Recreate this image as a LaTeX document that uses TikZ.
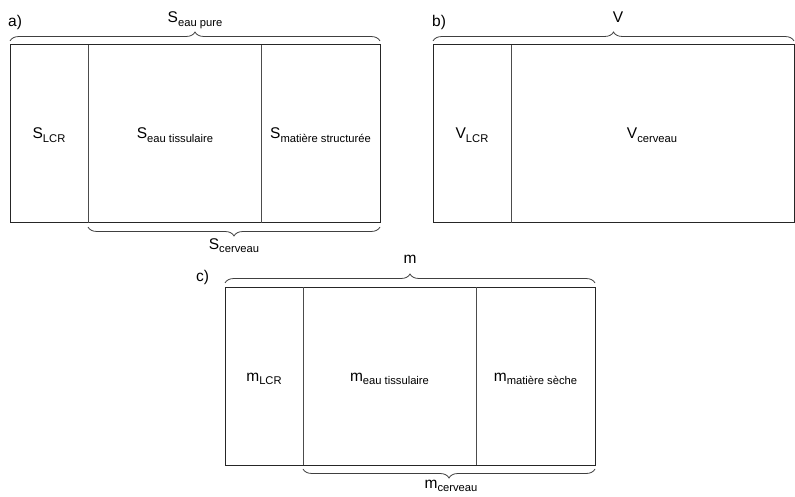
\documentclass[tikz,border=0pt]{standalone}
\usepackage{fontspec}
\setmainfont{Liberation Sans}
\usetikzlibrary{decorations.pathreplacing}
\newcommand{\lbl}[2]{{\fontsize{15.5}{18}\selectfont #1}\raisebox{-3.8pt}{\fontsize{11.2}{13}\selectfont #2}}
\tikzset{
  boxline/.style={draw=black!85, line width=1pt},
  divline/.style={draw=black!70, line width=1pt},
  bracestyle/.style={draw=black!75, line width=0.8pt, decorate, decoration={brace, amplitude=9pt}},
  txt/.style={inner sep=0pt, anchor=base},
  tag/.style={inner sep=0pt, anchor=base west, font=\fontsize{15.5}{18}\selectfont},
}
\begin{document}
\begin{tikzpicture}[x=1pt,y=1pt]
\useasboundingbox (0,0) rectangle (795,-497);
% ---------- a ----------
\coordinate (a1) at (10,-45);
\coordinate (a2) at (380,-223);
\coordinate (ad1t) at (88,-45);  \coordinate (ad1b) at (88,-223);
\coordinate (ad2t) at (261,-45); \coordinate (ad2b) at (261,-223);
\draw[boxline] (a1) rectangle (a2);
\draw[divline] (ad1t) -- (ad1b);
\draw[divline] (ad2t) -- (ad2b);
\coordinate (abl) at (10,-41); \coordinate (abr) at (380,-41);
\draw[bracestyle] (abl) -- (abr);
\coordinate (abbr) at (380,-227); \coordinate (abbl) at (88,-227);
\draw[bracestyle] (abbr) -- (abbl);
\node[tag] (atag) at (8,-27) {a)};
\node[txt] (atop) at (195,-23) {\lbl{S}{eau pure}};
\node[txt] (abot) at (234,-249) {\lbl{S}{cerveau}};
\node[txt] (alcr) at (49,-139) {\lbl{S}{LCR}};
\node[txt] (aeau) at (175,-139) {\lbl{S}{eau tissulaire}};
\node[txt] (amat) at (320.5,-139) {\lbl{S}{matière structurée}};
% ---------- b ----------
\coordinate (b1) at (433,-45);
\coordinate (b2) at (794,-223);
\coordinate (bd1t) at (511,-45); \coordinate (bd1b) at (511,-223);
\draw[boxline] (b1) rectangle (b2);
\draw[divline] (bd1t) -- (bd1b);
\coordinate (bbl) at (433,-41); \coordinate (bbr) at (794,-41);
\draw[bracestyle] (bbl) -- (bbr);
\node[tag] (btag) at (432,-27) {b)};
\node[txt] (btop) at (618,-23) {\lbl{V}{}};
\node[txt] (blcr) at (472,-139) {\lbl{V}{LCR}};
\node[txt] (bcer) at (652,-139) {\lbl{V}{cerveau}};
% ---------- c ----------
\coordinate (c1) at (225,-287);
\coordinate (c2) at (595,-465);
\coordinate (cd1t) at (303,-287); \coordinate (cd1b) at (303,-465);
\coordinate (cd2t) at (476,-287); \coordinate (cd2b) at (476,-465);
\draw[boxline] (c1) rectangle (c2);
\draw[divline] (cd1t) -- (cd1b);
\draw[divline] (cd2t) -- (cd2b);
\coordinate (cbl) at (225,-283); \coordinate (cbr) at (595,-283);
\draw[bracestyle] (cbl) -- (cbr);
\coordinate (cbbr) at (595,-469); \coordinate (cbbl) at (303,-469);
\draw[bracestyle] (cbbr) -- (cbbl);
\node[tag] (ctag) at (196,-281) {c)};
\node[txt] (ctop) at (410,-263) {\lbl{m}{}};
\node[txt] (cbot) at (451,-488) {\lbl{m}{cerveau}};
\node[txt] (clcr) at (264,-381) {\lbl{m}{LCR}};
\node[txt] (ceau) at (389.5,-381) {\lbl{m}{eau tissulaire}};
\node[txt] (cmat) at (535.5,-381) {\lbl{m}{matière sèche}};
\end{tikzpicture}
\end{document}
